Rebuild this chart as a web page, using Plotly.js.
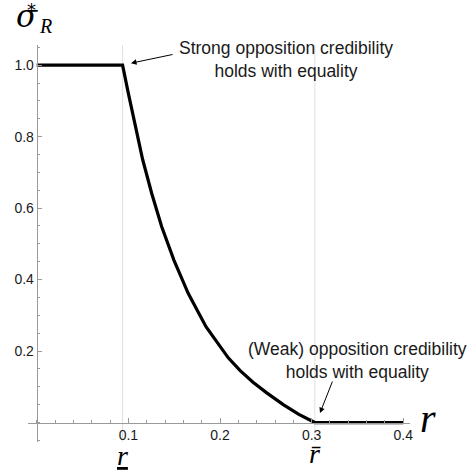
<!DOCTYPE html>
<html>
<head>
<meta charset="utf-8">
<script src="https://cdn.plot.ly/plotly-3.0.1.min.js"></script>
<style>html,body{margin:0;padding:0;background:#fff;}#chart{width:469px;height:472px;}</style>
</head>
<body>
<div id="chart"></div>
<script>
// ---- data ----
const rValues = [0, 0.0937, 0.100, 0.1073, 0.1156, 0.1255, 0.1364, 0.1498, 0.1654, 0.1847, 0.197, 0.209, 0.222, 0.236, 0.251, 0.269, 0.286, 0.3035, 0.40];
const sigmaValues = [1, 1, 0.921, 0.830, 0.736, 0.641, 0.548, 0.454, 0.361, 0.268, 0.222, 0.181, 0.145, 0.113, 0.083, 0.050, 0.023, 0, 0];
const rUnder = 0.0937;
const rBar = 0.3035;
const xTickVals = [0.1, 0.2, 0.3, 0.4];
const xTickText = ['0.1', '0.2', '0.3', '0.4'];
const yTickVals = [0.2, 0.4, 0.6, 0.8, 1.0];
const yTickText = ['0.2', '0.4', '0.6', '0.8', '1.0'];

// ---- layout helpers ----
const W = 469, H = 472;
const M = {l: 28, r: 59, t: 45, b: 30};
const xRange = [-0.0095, 0.4073];
const yRange = [-0.0545, 1.0565];
const pw = W - M.l - M.r, ph = H - M.t - M.b;
const px2paperX = p => (p - M.l) / pw;
const px2paperY = p => (H - M.b - p) / ph;

const sans = 'Liberation Sans, Arial, sans-serif';
const serif = 'Liberation Serif, Times New Roman, serif';
const greek = 'DejaVu Serif, serif';
const axisGray = '#9a9a9a';

const trace = {
  x: rValues, y: sigmaValues, type: 'scatter', mode: 'lines',
  line: {color: '#000', width: 3.2}, hoverinfo: 'skip', cliponaxis: false
};

const annotations = [
  {xref: 'x', yref: 'paper', x: 0.272, y: px2paperY(59.3), text: 'Strong opposition credibility<br>holds with equality',
   showarrow: false, xanchor: 'center', yanchor: 'middle', align: 'center', font: {family: sans, size: 17.5, color: '#1a1a1a'}},
  {xref: 'x', yref: 'paper', x: 0.3495, y: px2paperY(360.3), text: '(Weak) opposition credibility<br>holds with equality',
   showarrow: false, xanchor: 'center', yanchor: 'middle', align: 'center', font: {family: sans, size: 17.5, color: '#1a1a1a'}},
  {xref: 'x', yref: 'y', x: rUnder + 0.0092, y: 1.0056, text: '', showarrow: true, ax: 43, ay: -9,
   arrowhead: 2, arrowsize: 1.1, arrowwidth: 1, arrowcolor: '#000'},
  {xref: 'x', yref: 'y', x: rBar + 0.0056, y: 0.0266, text: '', showarrow: true, ax: 13, ay: -33,
   arrowhead: 2, arrowsize: 1.1, arrowwidth: 1, arrowcolor: '#000'},
  // axis labels
  {xref: 'paper', yref: 'paper', x: px2paperX(27), y: px2paperY(16), text: '<i>σ</i>', showarrow: false,
   xanchor: 'center', yanchor: 'middle', font: {family: greek, size: 31, color: '#000'}},
  {xref: 'paper', yref: 'paper', x: px2paperX(45), y: px2paperY(26), text: '<i>R</i>', showarrow: false,
   xanchor: 'center', yanchor: 'middle', font: {family: serif, size: 20, color: '#000'}},
  {xref: 'paper', yref: 'paper', x: px2paperX(31), y: px2paperY(9), text: '*', showarrow: false,
   xanchor: 'center', yanchor: 'middle', font: {family: 'DejaVu Sans, sans-serif', size: 18, color: '#000'}},
  {xref: 'paper', yref: 'paper', x: px2paperX(428), y: px2paperY(418.4), text: '<i>r</i>', showarrow: false,
   xanchor: 'center', yanchor: 'middle', font: {family: serif, size: 40, color: '#000'}},
  {xref: 'x', yref: 'paper', x: rUnder, y: px2paperY(455.5), text: '<u><i>r</i></u>', showarrow: false,
   xanchor: 'center', yanchor: 'middle', font: {family: serif, size: 28, color: '#000'}},
  {xref: 'x', yref: 'paper', x: rBar, y: px2paperY(453.5), text: '<i>r\u0304</i>', showarrow: false,
   xanchor: 'center', yanchor: 'middle', font: {family: serif, size: 28, color: '#000'}}
];

const shapes = [rUnder, rBar].map(v => ({
  type: 'line', xref: 'x', yref: 'paper', x0: v, x1: v, y0: 0, y1: 1,
  line: {color: '#e0e0e0', width: 1}, layer: 'below'
}));

const layout = {
  width: W, height: H, margin: M,
  paper_bgcolor: '#fff', plot_bgcolor: '#fff', showlegend: false,
  xaxis: {
    range: xRange, anchor: 'free', position: (0 - yRange[0]) / (yRange[1] - yRange[0]),
    showgrid: false, zeroline: false, showline: true, linecolor: axisGray, linewidth: 1,
    tickmode: 'array', tickvals: xTickVals, ticktext: xTickText,
    ticks: 'inside', ticklen: 4.5, tickcolor: axisGray, tickwidth: 1,
    minor: {dtick: 0.02, tick0: 0, ticks: 'inside', ticklen: 2.5, tickcolor: axisGray, showgrid: false},
    tickfont: {family: sans, size: 14, color: '#1a1a1a'}, fixedrange: true
  },
  yaxis: {
    range: yRange, anchor: 'free', position: (0 - xRange[0]) / (xRange[1] - xRange[0]),
    showgrid: false, zeroline: false, showline: true, linecolor: axisGray, linewidth: 1,
    tickmode: 'array', tickvals: yTickVals, ticktext: yTickText,
    ticks: 'inside', ticklen: 4.5, tickcolor: axisGray, tickwidth: 1,
    minor: {dtick: 0.05, tick0: 0, ticks: 'inside', ticklen: 2.5, tickcolor: axisGray, showgrid: false},
    tickfont: {family: sans, size: 14, color: '#1a1a1a'}, fixedrange: true
  },
  annotations: annotations,
  shapes: shapes
};

Plotly.newPlot('chart', [trace], layout, {displayModeBar: false, staticPlot: true});
</script>
</body>
</html>
